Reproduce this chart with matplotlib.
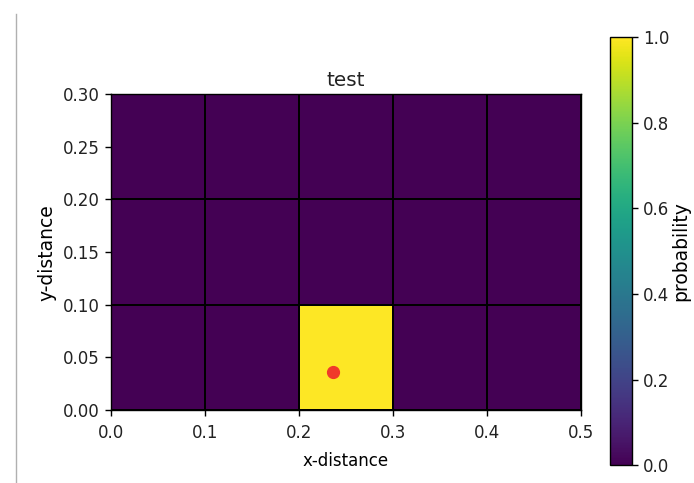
import matplotlib
matplotlib.use("Agg")
import matplotlib.pyplot as plt
from matplotlib.lines import Line2D
import numpy as np

# grid cell edges (metres) and probability per cell (rows = y, cols = x)
x_edges = [0.0, 0.1, 0.2, 0.3, 0.4, 0.5]
y_edges = [0.0, 0.1, 0.2, 0.3]
probability = np.array([
    [0.0, 0.0, 1.0, 0.0, 0.0],
    [0.0, 0.0, 0.0, 0.0, 0.0],
    [0.0, 0.0, 0.0, 0.0, 0.0],
])
# true source position
source_x = [0.2365]
source_y = [0.0365]

x_ticks = [0.0, 0.1, 0.2, 0.3, 0.4, 0.5]
y_ticks = [0.0, 0.05, 0.10, 0.15, 0.20, 0.25, 0.30]
y_tick_labels = ["0.00", "0.05", "0.10", "0.15", "0.20", "0.25", "0.30"]
cbar_ticks = [0.0, 0.2, 0.4, 0.6, 0.8, 1.0]

# the reference looks like a default figure scaled up ~1.2x
# (and a little stretched vertically, so rotated labels run longer)
plt.rcParams.update({
    "font.size": 12,
    "axes.titlesize": 14.4,
    "axes.linewidth": 1.0,
    "xtick.major.size": 4.5,
    "ytick.major.size": 4.5,
    "xtick.major.width": 1.0,
    "ytick.major.width": 1.0,
    "xtick.major.pad": 5.5,
    "ytick.major.pad": 3.5,
    "text.color": "#222222",
    "xtick.labelcolor": "#222222",
    "ytick.labelcolor": "#222222",
})

fig = plt.figure(figsize=(6.94, 4.83), dpi=100)
ax = fig.add_axes([0.160, 0.151, 0.677, 0.654])
cax = fig.add_axes([0.879, 0.037, 0.032, 0.886])

mesh = ax.pcolormesh(x_edges, y_edges, probability, cmap="viridis",
                     vmin=0.0, vmax=1.0, edgecolors="black", linewidth=1.2)
ax.plot(source_x, source_y, "o", color="#f03a2a", markersize=8.5)
ax.set_xlim(0.0, 0.5)
ax.set_ylim(0.0, 0.3)
ax.set_xticks(x_ticks)
ax.set_yticks(y_ticks)
ax.set_yticklabels(y_tick_labels)
ax.set_xlabel("x-distance", labelpad=7)
ax.set_ylabel("y-distance", labelpad=5, fontsize=13.5)
ax.set_title("test")

cb = fig.colorbar(mesh, cax=cax)
cb.set_label("probability", labelpad=1, fontsize=13.5)
cb.set_ticks(cbar_ticks)

# thin border line at the left edge of the screenshot
fig.add_artist(Line2D([0.023, 0.023], [0.0, 0.97], transform=fig.transFigure,
                      color="#b0b0b0", linewidth=1.0))

fig.savefig("out.png", dpi=100)
